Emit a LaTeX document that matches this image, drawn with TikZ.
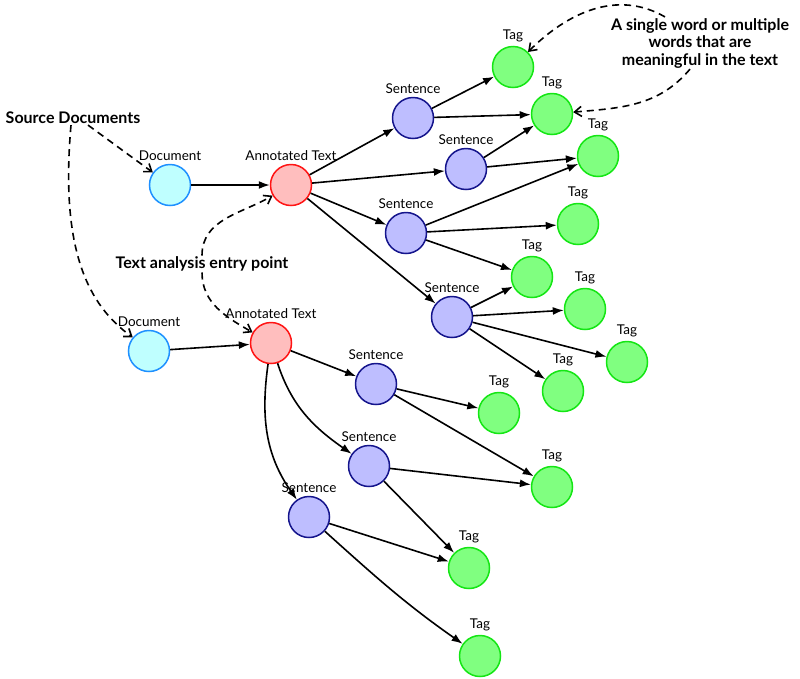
\documentclass[tikz,border=0pt]{standalone}
\usepackage{fontspec}
\setmainfont{Lato}
\usetikzlibrary{arrows.meta,positioning}
\tikzset{>={Latex[width=8pt,length=11pt]}}

\definecolor{docline}{RGB}{30,144,255}
\definecolor{docfill}{RGB}{191,255,255}
\definecolor{atline}{RGB}{255,20,20}
\definecolor{atfill}{RGB}{255,190,190}
\definecolor{sentline}{RGB}{20,20,140}
\definecolor{sentfill}{RGB}{190,190,255}
\definecolor{tagline}{RGB}{20,230,20}
\definecolor{tagfill}{RGB}{128,255,128}

\tikzset{
  item/.style={circle, draw, line width=1.5pt, minimum size=41pt, inner sep=0pt,
    label distance=1pt},
  every label/.style={font=\fontsize{13.5}{15}\selectfont},
  docnode/.style={item, draw=docline, fill=docfill},
  atnode/.style={item, draw=atline, fill=atfill},
  sentnode/.style={item, draw=sentline, fill=sentfill},
  tagnode/.style={item, draw=tagline, fill=tagfill},
  note/.style={font=\bfseries\fontsize{16}{17.5}\selectfont, align=center, inner sep=1pt},
  link/.style={->, line width=1.6pt},
  pointer/.style={-{Straight Barb[length=7pt,width=10pt]}, line width=1.6pt,
    dash pattern=on 7pt off 5pt}
}

\begin{document}
\begin{tikzpicture}[x=1pt, y=-1pt]

  \useasboundingbox (0,0) rectangle (800,678);

  % upper document
  \node[docnode, label=above:Document] (doc1) at (170,185) {};
  \node[atnode, label=above:Annotated Text] (at1) at (291,185) {};

  \node[sentnode, label=above:Sentence] (s1) at (413,118) {};
  \node[sentnode, label=above:Sentence] (s2) at (466,169) {};
  \node[sentnode, label=above:Sentence] (s3) at (406,233) {};
  \node[sentnode, label=above:Sentence] (s4) at (452,317) {};

  \node[tagnode, label=above:Tag] (t1) at (513,67) {};
  \node[tagnode, label=above:Tag] (t2) at (552,114) {};
  \node[tagnode, label=above:Tag] (t3) at (598,156) {};
  \node[tagnode, label=above:Tag] (t4) at (578,224) {};
  \node[tagnode, label=above:Tag] (t5) at (532,277) {};
  \node[tagnode, label=above:Tag] (t6) at (585,309) {};
  \node[tagnode, label=above:Tag] (t7) at (627,362) {};
  \node[tagnode, label=above:Tag] (t8) at (563,391) {};

  % lower document
  \node[docnode, label=above:Document] (doc2) at (149,351) {};
  \node[atnode, label=above:Annotated Text] (at2) at (271,343) {};

  \node[sentnode, label=above:Sentence] (u1) at (376,384) {};
  \node[sentnode, label=above:Sentence] (u2) at (369,466) {};
  \node[sentnode, label=above:Sentence] (u3) at (309,517) {};

  \node[tagnode, label=above:Tag] (v1) at (499,413) {};
  \node[tagnode, label=above:Tag] (v2) at (552,487) {};
  \node[tagnode, label=above:Tag] (v3) at (469,568) {};
  \node[tagnode, label=above:Tag] (v4) at (480,656) {};

  % notes
  \node[note] (src) at (73,118) {Source Documents};
  \node[note] (entry) at (202,264) {Text analysis entry point};
  \node[note] (word) at (700,43) {A single word or multiple\\words that are\\meaningful in the text};

  \foreach \a/\b in {doc1/at1, at1/s1, at1/s2, at1/s3, at1/s4,
    s1/t1, s1/t2, s2/t2, s2/t3, s3/t3, s3/t4, s3/t5,
    s4/t5, s4/t6, s4/t7, s4/t8,
    doc2/at2, at2/u1, u1/v1, u1/v2, u2/v2, u2/v3, u3/v3}
    \draw[link] (\a) -- (\b);

  \draw[link] (at2) to[out=-72, in=145] (u2);
  \draw[link] (at2) to[out=-98, in=125] (u3);
  \draw[link] (u3) to[out=-42, in=145] (v4);

  % \draw[link] (u2) -- (v4);

  \draw[pointer] ([xshift=15pt]src.south) -- (doc1);
  \draw[pointer] ([xshift=-2pt]src.south) .. controls (60,250) and (88,305) .. (doc2.140);
  \draw[pointer] (entry.north) to[out=90, in=210] (at1);
  \draw[pointer] (entry.south) to[out=-90, in=150] (at2);
  \draw[pointer] ([xshift=-35pt]word.north) to[out=150, in=45] (t1);
  \draw[pointer] ([xshift=-10pt]word.south) to[out=-130, in=5] (t2);

\end{tikzpicture}
\end{document}
